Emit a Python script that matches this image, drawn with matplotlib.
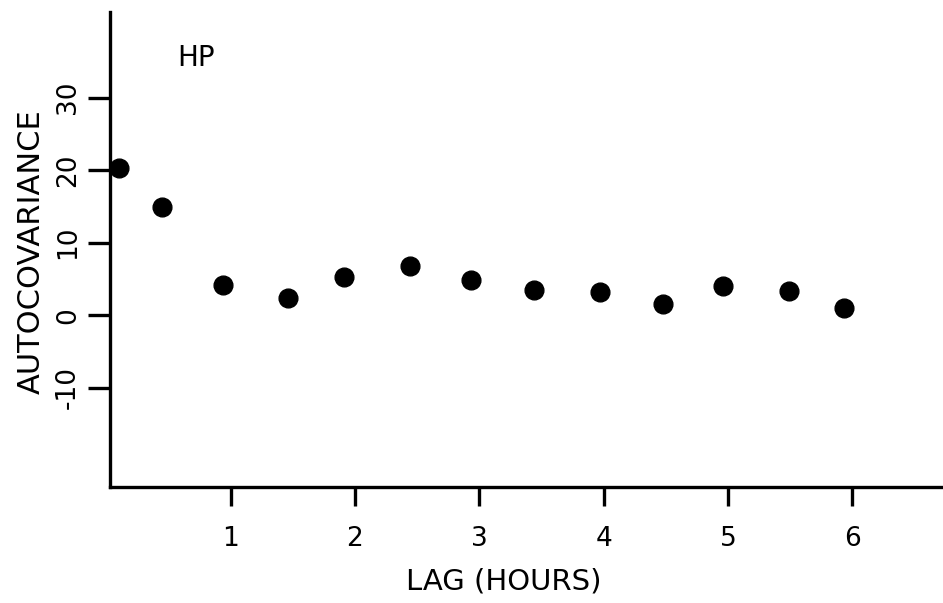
import numpy as np
import matplotlib
matplotlib.use("Agg")
import matplotlib.pyplot as plt

# lag in hours and autocovariance
lag = [0.10, 0.45, 0.94, 1.46, 1.91, 2.44, 2.93, 3.44, 3.97, 4.48, 4.96, 5.49, 5.93]
autocov = [20.3, 14.9, 4.2, 2.4, 5.3, 6.8, 4.8, 3.4, 3.2, 1.6, 4.0, 3.3, 1.0]
xticks = [1, 2, 3, 4, 5, 6]
yticks = [-10, 0, 10, 20, 30]

plt.rcParams['font.family'] = ['DejaVu Sans']
plt.rcParams['axes.unicode_minus'] = False

fig = plt.figure(figsize=(9.43, 6.03), dpi=100)
ax = fig.add_axes([0.1166, 0.1924, 0.8834, 0.7876])

ax.plot(lag, autocov, "o", color="black", markersize=13.5, clip_on=False)

ax.set_xlim(0.03, 6.73)
ax.set_ylim(-23.7, 41.8)
ax.set_xticks(xticks)
ax.set_yticks(yticks)

ax.spines["top"].set_visible(False)
ax.spines["right"].set_visible(False)
ax.spines["left"].set_linewidth(2.4)
ax.spines["bottom"].set_linewidth(2.4)

ax.tick_params(axis="x", direction="out", length=14, width=2.4, pad=14, labelsize=19)
ax.tick_params(axis="y", direction="out", length=16, width=2.4, pad=5, labelsize=19, labelrotation=90)
for lbl in ax.get_yticklabels():
    lbl.set_verticalalignment("center")

ax.set_xlabel("LAG (HOURS)", fontsize=21, va="center")
ax.set_ylabel("AUTOCOVARIANCE", fontsize=22, va="center")
ax.xaxis.set_label_coords(0.473, -0.20)
ax.yaxis.set_label_coords(-0.095, 0.495)

ax.text(0.72, 35.4, "HP", fontsize=20, ha="center", va="center")

fig.savefig("out.png", dpi=100)
